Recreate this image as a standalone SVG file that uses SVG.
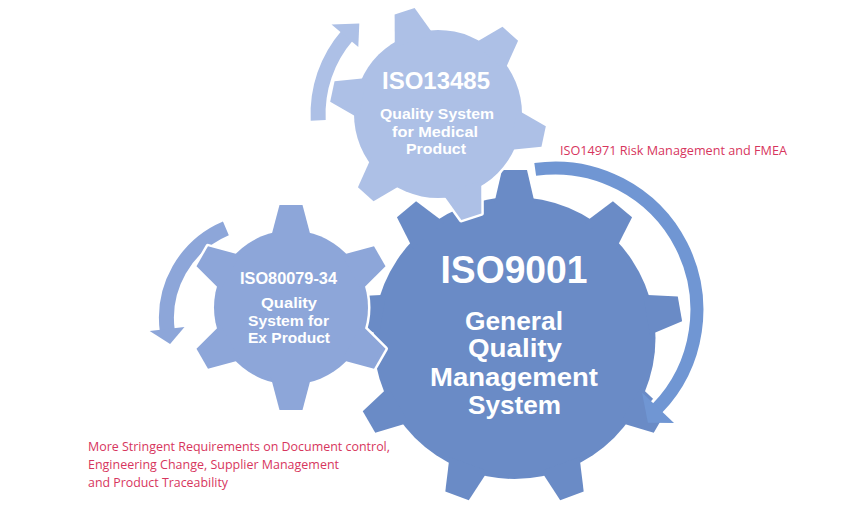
<svg xmlns="http://www.w3.org/2000/svg" xmlns:xlink="http://www.w3.org/1999/xlink" width="861" height="510" viewBox="0 0 861 510">
<style>
.gt{font-family:"Liberation Sans",Arial,sans-serif;font-weight:700;fill:#ffffff;text-anchor:middle}
.rt{font-family:"Open Sans","Noto Sans","Liberation Sans",sans-serif;font-size:12px;fill:#d7355d}
.under{fill:#ffffff;stroke:#ffffff;stroke-width:5;stroke-linejoin:round}
</style>
<defs>
<polygon id="tB" points="-20.4,-134 -12.5,-168 12.5,-168 20.4,-134"/>
<polygon id="tS" points="-20.1,-70 -11.5,-102.5 11.5,-102.5 20.1,-70"/>
<polygon id="tL" points="-20.4,-77 -10.5,-108 10.5,-108 20.4,-77"/>
<g id="gearB">
<circle r="141"/>
<use xlink:href="#tB"/>
<use xlink:href="#tB" transform="rotate(40)"/>
<use xlink:href="#tB" transform="rotate(80)"/>
<use xlink:href="#tB" transform="rotate(120)"/>
<use xlink:href="#tB" transform="rotate(160)"/>
<use xlink:href="#tB" transform="rotate(200)"/>
<use xlink:href="#tB" transform="rotate(240)"/>
<use xlink:href="#tB" transform="rotate(280)"/>
<use xlink:href="#tB" transform="rotate(320)"/>
</g>
<g id="gearS">
<circle r="77"/>
<use xlink:href="#tS"/>
<use xlink:href="#tS" transform="rotate(60)"/>
<use xlink:href="#tS" transform="rotate(120)"/>
<use xlink:href="#tS" transform="rotate(180)"/>
<use xlink:href="#tS" transform="rotate(240)"/>
<use xlink:href="#tS" transform="rotate(300)"/>
</g>
<g id="gearL">
<circle r="84"/>
<use xlink:href="#tL" transform="rotate(-18)"/>
<use xlink:href="#tL" transform="rotate(42)"/>
<use xlink:href="#tL" transform="rotate(102)"/>
<use xlink:href="#tL" transform="rotate(162)"/>
<use xlink:href="#tL" transform="rotate(222)"/>
<use xlink:href="#tL" transform="rotate(282)"/>
</g>
</defs>
<rect width="861" height="510" fill="#ffffff"/>

<g id="iso9001">
<use xlink:href="#gearB" transform="translate(514.5,338)" fill="#6a8bc6"/>
<text class="gt" x="514" y="283" font-size="38" textLength="147" lengthAdjust="spacingAndGlyphs">ISO9001</text>
<text class="gt" x="514" y="330" font-size="25" textLength="98" lengthAdjust="spacingAndGlyphs">General</text>
<text class="gt" x="515" y="357" font-size="25" textLength="94" lengthAdjust="spacingAndGlyphs">Quality</text>
<text class="gt" x="514" y="386" font-size="25" textLength="168" lengthAdjust="spacingAndGlyphs">Management</text>
<text class="gt" x="514.5" y="414" font-size="25" textLength="93" lengthAdjust="spacingAndGlyphs">System</text>
</g>

<g id="connectors">
<g id="arrow-13485">
<path d="M318.2,120.3 A120,120 0 0 1 347.4,35.3" fill="none" stroke="#adc0e6" stroke-width="15"/>
<polygon points="331.5,24.6 359.3,23.4 358.3,47.1" fill="#adc0e6"/>
</g>
<g id="arrow-80079">
<path d="M225.9,228.3 A97.5,97.5 0 0 0 167.4,331.6" fill="none" stroke="#8da6d9" stroke-width="15"/>
<polygon points="149.7,331.0 170.1,344.1 184.5,327.1" fill="#8da6d9"/>
</g>
<g id="arrow-14971">
<path d="M535.2,169.4 A142,142 0 0 1 657.1,408.6" fill="none" stroke="#ffffff" stroke-width="19"/>
<path d="M535.2,169.4 A142,142 0 0 1 657.1,408.6" fill="none" stroke="#7096d3" stroke-width="13"/>
<polygon points="642.0,392.6 647.9,422.7 674.0,422.9" fill="#7096d3"/>
</g>
</g>

<g id="iso80079">
<use xlink:href="#gearS" transform="translate(291,307.5)" class="under"/>
<use xlink:href="#gearS" transform="translate(291,307.5)" fill="#8da6d9"/>
<text class="gt" x="288.5" y="284" font-size="16.5" textLength="97" lengthAdjust="spacingAndGlyphs">ISO80079-34</text>
<text class="gt" x="289" y="308" font-size="15.5" textLength="56" lengthAdjust="spacingAndGlyphs">Quality</text>
<text class="gt" x="288.5" y="325.5" font-size="15.5" textLength="81" lengthAdjust="spacingAndGlyphs">System for</text>
<text class="gt" x="289" y="343" font-size="15.5" textLength="82" lengthAdjust="spacingAndGlyphs">Ex Product</text>
</g>

<g id="iso13485">
<use xlink:href="#gearL" transform="translate(438,114)" class="under"/>
<use xlink:href="#gearL" transform="translate(438,114)" fill="#adc0e6"/>
<text class="gt" x="436" y="89" font-size="24" textLength="108" lengthAdjust="spacingAndGlyphs">ISO13485</text>
<text class="gt" x="437" y="118.5" font-size="15.5" textLength="114" lengthAdjust="spacingAndGlyphs">Quality System</text>
<text class="gt" x="435" y="136.5" font-size="15.5" textLength="86" lengthAdjust="spacingAndGlyphs">for Medical</text>
<text class="gt" x="436" y="154" font-size="15.5" textLength="60" lengthAdjust="spacingAndGlyphs">Product</text>
</g>

<g id="labels">
<text class="rt" x="560" y="154.5" textLength="227" lengthAdjust="spacingAndGlyphs">ISO14971 Risk Management and FMEA</text>
<text class="rt" x="88" y="451" textLength="302" lengthAdjust="spacingAndGlyphs">More Stringent Requirements on Document control,</text>
<text class="rt" x="88" y="469" textLength="251" lengthAdjust="spacingAndGlyphs">Engineering Change, Supplier Management</text>
<text class="rt" x="88" y="487" textLength="140" lengthAdjust="spacingAndGlyphs">and Product Traceability</text>
</g>
</svg>
